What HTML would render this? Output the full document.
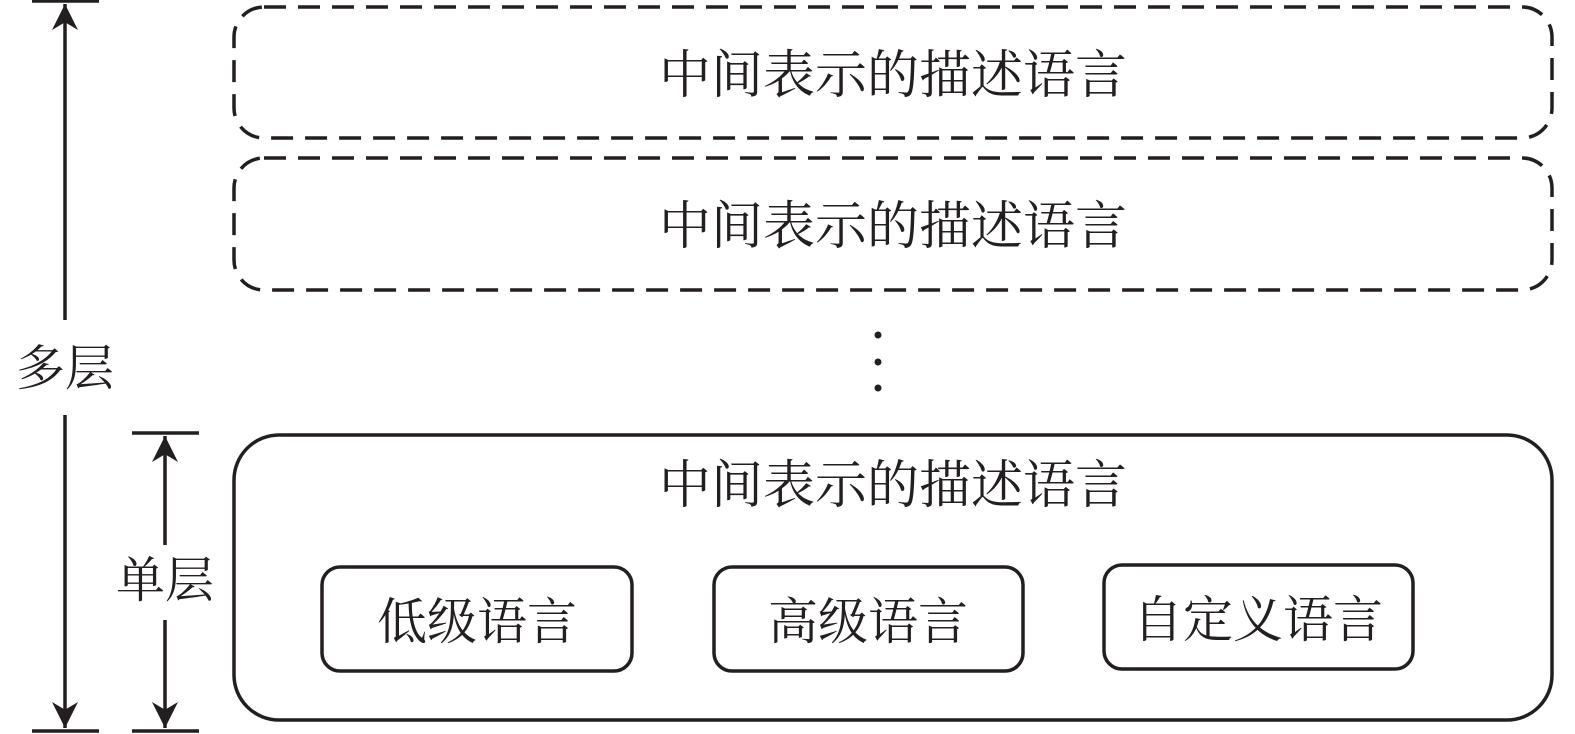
<!DOCTYPE html>
<html><head><meta charset="utf-8"><style>
html,body{margin:0;padding:0;background:#fff;}
svg{display:block;}
text{font-family:"Liberation Serif","Noto Serif CJK SC",serif;fill:#231f20;}
</style></head><body>
<svg width="1575" height="734" viewBox="0 0 1575 734" xmlns="http://www.w3.org/2000/svg">
<defs>
<marker id="ah" viewBox="0 0 10 10" refX="10" refY="5" markerWidth="30" markerHeight="26" markerUnits="userSpaceOnUse" orient="auto">
<path d="M0,0 L10,5 L0,10 L3,5 Z" fill="#231f20"/>
</marker>
</defs>
<g stroke="#231f20" stroke-width="3.5" fill="none">
<line x1="32" y1="1" x2="99" y2="1"/>
<line x1="32" y1="731" x2="99" y2="731"/>
<line x1="65" y1="320" x2="65" y2="4" marker-end="url(#ah)"/>
<line x1="65" y1="415" x2="65" y2="728" marker-end="url(#ah)"/>
<line x1="132" y1="433" x2="199" y2="433"/>
<line x1="132" y1="731" x2="199" y2="731"/>
<line x1="165" y1="545" x2="165" y2="436" marker-end="url(#ah)"/>
<line x1="165" y1="620" x2="165" y2="728" marker-end="url(#ah)"/>
<rect x="234" y="7" width="1318" height="131" rx="30" stroke-dasharray="22 12"/>
<rect x="234" y="158" width="1318" height="132" rx="30" stroke-dasharray="22 12"/>
<rect x="234" y="435" width="1318" height="285" rx="45"/>
<rect x="322" y="567" width="310" height="104" rx="18"/>
<rect x="714" y="567" width="309" height="104" rx="18"/>
<rect x="1104" y="565" width="309" height="104" rx="18"/>
</g>
<g fill="#231f20"><circle cx="878" cy="335" r="3.5"/><circle cx="878" cy="362" r="3.5"/><circle cx="878" cy="388" r="3.5"/></g>
<g font-size="52" text-anchor="middle">
<text x="893" y="93">中间表示的描述语言</text>
<text x="893" y="244">中间表示的描述语言</text>
<text x="893" y="503">中间表示的描述语言</text>
<text x="65" y="385" font-size="49">多层</text>
<text x="165" y="597" font-size="49">单层</text>
<text x="477" y="639" font-size="50">低级语言</text>
<text x="868" y="639" font-size="50">高级语言</text>
<text x="1258" y="637" font-size="50">自定义语言</text>
</g>
</svg>
</body></html>
